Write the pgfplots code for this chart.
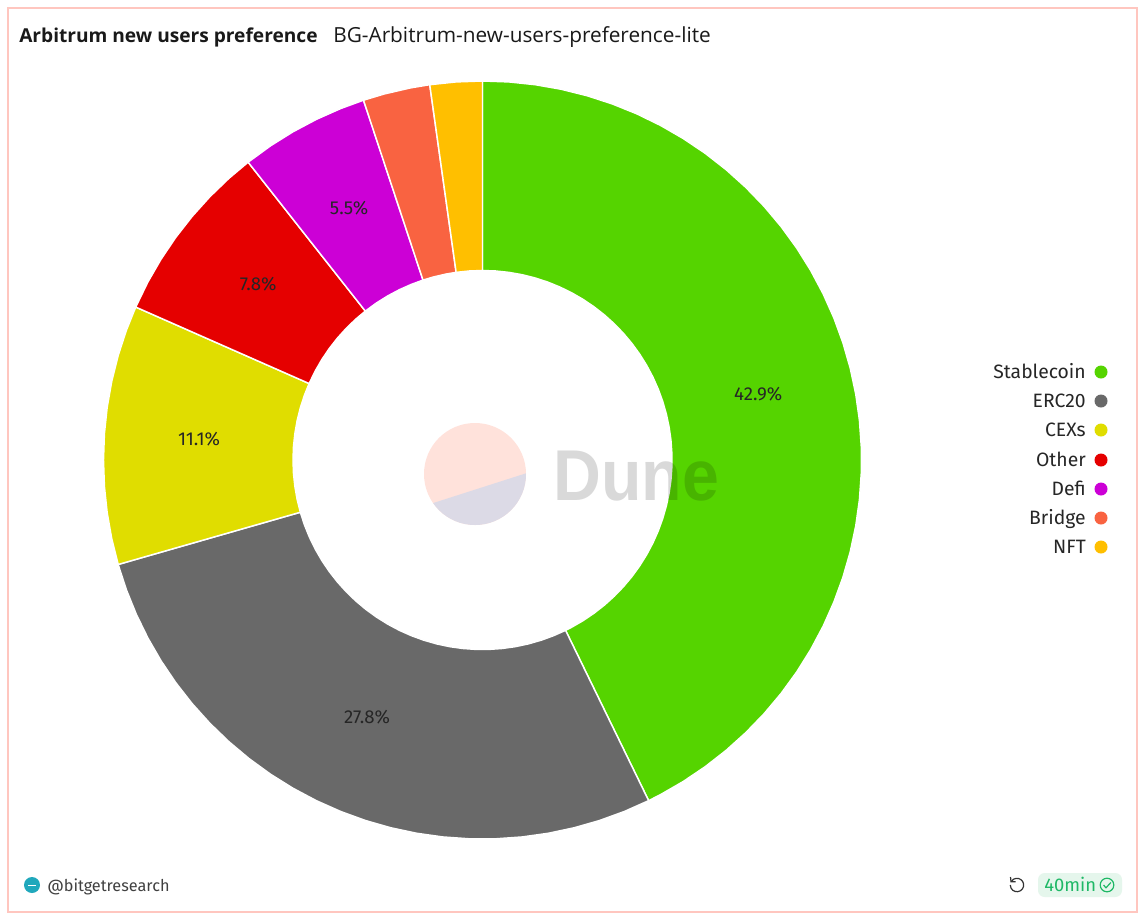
\documentclass[border=0pt]{standalone}
\usepackage{pgfplots}
\usepackage{fontspec}
\setmainfont{Fira Sans}
\newfontfamily\titlefont{Open Sans}
\newfontfamily\dunefont{Liberation Sans}
\pgfplotsset{compat=1.18}
\usepgfplotslibrary{polar}
\definecolor{cStable}{HTML}{55D400}
\definecolor{cErc}{HTML}{696969}
\definecolor{cCex}{HTML}{E0DD00}
\definecolor{cOther}{HTML}{E50000}
\definecolor{cDefi}{HTML}{CC00D6}
\definecolor{cBridge}{HTML}{F96341}
\definecolor{cNft}{HTML}{FFBF00}
\definecolor{frameC}{HTML}{FFC6BF}
\definecolor{badgeBg}{HTML}{E5F6EC}
\definecolor{badgeFg}{HTML}{1FB866}
\definecolor{logoA}{HTML}{FFE2DB}
\definecolor{logoB}{HTML}{DCDAE6}
\definecolor{bitget}{HTML}{20A8BC}
\begin{document}
\begin{tikzpicture}
\path[use as bounding box] (0,0) rectangle (861pt,-691.5pt);
\begin{scope}[x=0.75pt,y=-0.75pt]
\fill[white] (0,0) rectangle (1148,922);
\draw[frameC,line width=0.8pt] (8,8) rectangle (1137,912);
\end{scope}
\begin{polaraxis}[
  at={(361.875pt,-345pt)},anchor=center,
  scale only axis,width=568.5pt,height=568.5pt,
  hide axis,clip=false,
  xmin=-270,xmax=90,ymin=0,ymax=1,
  every axis plot/.append style={draw=white,line width=1.1pt},
]
\addplot[fill=cStable,draw=white] coordinates {(90,1)(86,1)(82,1)(78,1)(74,1)(70,1)(66,1)(62,1)(58,1)(54,1)(50,1)(46,1)(42,1)(38,1)(34,1)(30,1)(26,1)(22,1)(18,1)(14,1)(10,1)(6,1)(2,1)(-2,1)(-6,1)(-10,1)(-14,1)(-18,1)(-22,1)(-26,1)(-30,1)(-34,1)(-38,1)(-42,1)(-46,1)(-50,1)(-54,1)(-58,1)(-62,1)(-64,1)
(-64,0.5)(-62,0.5)(-58,0.5)(-54,0.5)(-50,0.5)(-46,0.5)(-42,0.5)(-38,0.5)(-34,0.5)(-30,0.5)(-26,0.5)(-22,0.5)(-18,0.5)(-14,0.5)(-10,0.5)(-6,0.5)(-2,0.5)(2,0.5)(6,0.5)(10,0.5)(14,0.5)(18,0.5)(22,0.5)(26,0.5)(30,0.5)(34,0.5)(38,0.5)(42,0.5)(46,0.5)(50,0.5)(54,0.5)(58,0.5)(62,0.5)(66,0.5)(70,0.5)(74,0.5)(78,0.5)(82,0.5)(86,0.5)(90,0.5)} -- cycle;
\addplot[fill=cErc,draw=white] coordinates {(-64,1)(-68,1)(-72,1)(-76,1)(-80,1)(-84,1)(-88,1)(-92,1)(-96,1)(-100,1)(-104,1)(-108,1)(-112,1)(-116,1)(-120,1)(-124,1)(-128,1)(-132,1)(-136,1)(-140,1)(-144,1)(-148,1)(-152,1)(-156,1)(-160,1)(-164,1)
(-164,0.5)(-160,0.5)(-156,0.5)(-152,0.5)(-148,0.5)(-144,0.5)(-140,0.5)(-136,0.5)(-132,0.5)(-128,0.5)(-124,0.5)(-120,0.5)(-116,0.5)(-112,0.5)(-108,0.5)(-104,0.5)(-100,0.5)(-96,0.5)(-92,0.5)(-88,0.5)(-84,0.5)(-80,0.5)(-76,0.5)(-72,0.5)(-68,0.5)(-64,0.5)} -- cycle;
\addplot[fill=cCex,draw=white] coordinates {(-164,1)(-168,1)(-172,1)(-176,1)(-180,1)(-184,1)(-188,1)(-192,1)(-196,1)(-200,1)(-203.8,1)
(-203.8,0.5)(-200,0.5)(-196,0.5)(-192,0.5)(-188,0.5)(-184,0.5)(-180,0.5)(-176,0.5)(-172,0.5)(-168,0.5)(-164,0.5)} -- cycle;
\addplot[fill=cOther,draw=white] coordinates {(-203.8,1)(-208,1)(-212,1)(-216,1)(-220,1)(-224,1)(-228,1)(-231.8,1)
(-231.8,0.5)(-228,0.5)(-224,0.5)(-220,0.5)(-216,0.5)(-212,0.5)(-208,0.5)(-203.8,0.5)} -- cycle;
\addplot[fill=cDefi,draw=white] coordinates {(-231.8,1)(-236,1)(-240,1)(-244,1)(-248,1)(-251.7,1)
(-251.7,0.5)(-248,0.5)(-244,0.5)(-240,0.5)(-236,0.5)(-231.8,0.5)} -- cycle;
\addplot[fill=cBridge,draw=white] coordinates {(-251.7,1)(-255,1)(-259,1)(-262,1)
(-262,0.5)(-259,0.5)(-255,0.5)(-251.7,0.5)} -- cycle;
\addplot[fill=cNft,draw=white] coordinates {(-262,1)(-266,1)(-270,1)
(-270,0.5)(-266,0.5)(-262,0.5)} -- cycle;
\node[font=\fontsize{14pt}{16pt}\selectfont,text=black!85] at (axis cs:13.4,0.748) {42.9\%};
\node[font=\fontsize{14pt}{16pt}\selectfont,text=black!85] at (axis cs:-114.2,0.743) {27.8\%};
\node[font=\fontsize{14pt}{16pt}\selectfont,text=black!85] at (axis cs:-184.2,0.75) {11.1\%};
\node[font=\fontsize{14pt}{16pt}\selectfont,text=black!85] at (axis cs:-218.1,0.752) {7.8\%};
\node[font=\fontsize{14pt}{16pt}\selectfont,text=black!85] at (axis cs:-242.1,0.752) {5.5\%};
\end{polaraxis}
\begin{scope}[x=0.75pt,y=-0.75pt]
% legend
\foreach \y/\t/\c in {378/Stablecoin/cStable,407/ERC20/cErc,436/CEXs/cCex,466/Other/cOther,495/Defi/cDefi,524/Bridge/cBridge,553/NFT/cNft}{
  \node[anchor=base east,inner sep=0pt,font=\fontsize{14.5pt}{16pt}\selectfont,text=black!85] at (1086,\y) {\t};
  \fill[\c] (1101,\y-6) circle (6.5);
}
% watermark
\begin{scope}
\clip (475,474) circle (51);
\fill[logoA] (420,420) rectangle (530,530);
\fill[logoB] (433.3,503) -- (526,473.3) -- (535,535) -- (420,535) -- cycle;
\end{scope}
\node[anchor=base west,inner sep=0pt,font=\dunefont\bfseries\fontsize{54pt}{60pt}\selectfont,text=black,text opacity=0.15] at (553,500) {\scalebox{0.92}[1]{Dune}};
% title
\node[anchor=base west,inner sep=0pt,font=\titlefont\bfseries\fontsize{14.35pt}{17pt}\selectfont,text=black!90] at (19,42) {Arbitrum new users preference};
\node[anchor=base west,inner sep=0pt,font=\titlefont\fontsize{15.6pt}{17pt}\selectfont,text=black!90] at (333,42) {BG-Arbitrum-new-users-preference-lite};
% footer left
\fill[bitget] (32,885) circle (8);
\draw[white,line width=0.6pt] (28,885) -- (36,885);
\node[anchor=base west,inner sep=0pt,font=\fontsize{12.2pt}{14pt}\selectfont,text=black!75] at (47,891) {@bitgetresearch};
% footer right
\draw[black!80,line width=0.9pt] (1011,881.5) -- (1013.6,879.2) arc[start angle=-120,end angle=180,radius=6.7];
\draw[black!80,line width=0.9pt] (1010.5,877) -- (1011,881.7) -- (1015.5,881.7);
\fill[badgeBg,rounded corners=5pt] (1038,873) rectangle (1122,897);
\node[anchor=base west,inner sep=0pt,font=\fontsize{13.8pt}{16pt}\selectfont,text=badgeFg] at (1044,891) {40min};
\draw[badgeFg,line width=0.9pt] (1107,885) circle (6.8);
\draw[badgeFg,line width=0.9pt] (1103.5,885) -- (1106,887.8) -- (1110.8,882.5);
\end{scope}
\end{tikzpicture}
\end{document}
